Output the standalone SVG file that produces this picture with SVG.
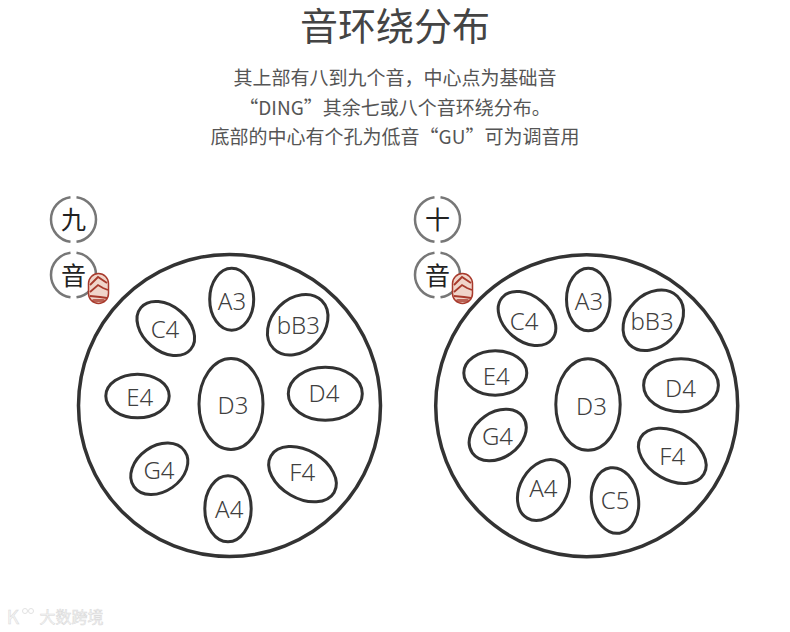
<svg xmlns="http://www.w3.org/2000/svg" width="790" height="632" viewBox="0 0 790 632">
<style>
text{font-family:"Noto Sans CJK SC","Noto Sans",sans-serif;text-anchor:middle}
.t{fill:#444;font-size:38px;font-family:"Liberation Sans","Noto Sans CJK SC",sans-serif}
.s{fill:#555;font-size:19px}
.n{fill:#3f3f3f;font-size:24px;font-family:"Noto Sans",sans-serif;font-weight:300}
.o{fill:none;stroke:#333;stroke-width:3.5}
.p{fill:none;stroke:#333;stroke-width:3}
.b{fill:none;stroke:#777;stroke-width:2.500}
.k{fill:#222;font-size:25px}
.se{fill:#f0d5ca;stroke:#a83a2c;stroke-width:1.5}
.sl{fill:none;stroke:#a83a2c;stroke-width:1.8}
.sb{fill:#a83a2c;opacity:.75}
.w{fill:#f6f6f6;stroke:#d8d8d8;stroke-width:.5}
</style>
<rect width="790" height="632" fill="#fff"/>
<text class="t" x="395" y="40">音环绕分布</text>
<text class="s" x="395" y="85">其上部有八到九个音，中心点为基础音</text>
<text class="s" x="395" y="115">“DING”其余七或八个音环绕分布。</text>
<text class="s" x="395" y="144">底部的中心有个孔为低音“GU”可为调音用</text>
<g id="badge-left">
<path class="b" d="M70.500 197.200A22.500 22.500 0 0 0 70.500 241.800M76.500 197.200A22.500 22.500 0 0 1 76.500 241.800"/>
<path class="b" d="M70.500 252.700A22.500 22.500 0 0 0 70.500 297.300M76.500 252.700A22.500 22.500 0 0 1 76.500 297.300"/>
<text class="k" x="73.500" y="229">九</text>
<text class="k" x="73.500" y="285">音</text>
<rect class="se" x="88.500" y="273.500" width="20" height="30" rx="10"/>
<path class="sl" d="M90 285l8-8 9 6M90 292l8-7 5 3 5 2M90 296l10 1 7 1"/>
<rect class="sb" x="92" y="299" width="13" height="3" rx="1.500"/>
</g>
<g id="badge-right">
<path class="b" d="M434.500 197.200A22.500 22.500 0 0 0 434.500 241.800M440.500 197.200A22.500 22.500 0 0 1 440.500 241.800"/>
<path class="b" d="M434.500 252.700A22.500 22.500 0 0 0 434.500 297.300M440.500 252.700A22.500 22.500 0 0 1 440.500 297.300"/>
<text class="k" x="437.500" y="229">十</text>
<text class="k" x="437.500" y="285">音</text>
<rect class="se" x="452.500" y="273.500" width="20" height="30" rx="10"/>
<path class="sl" d="M454 285l8-8 9 6M454 292l8-7 5 3 5 2M454 296l10 1 7 1"/>
<rect class="sb" x="456" y="299" width="13" height="3" rx="1.500"/>
</g>
<g id="drum-left">
<circle class="o" cx="229.500" cy="405.500" r="151"/>
<g id="l-D3"><ellipse class="p" cx="231" cy="404" rx="32" ry="45.500"/><text class="n" x="233" y="414">D3</text></g>
<g id="l-A3"><ellipse class="p" cx="231.700" cy="299.300" rx="22" ry="31"/><text class="n" x="232" y="310">A3</text></g>
<g id="l-bB3"><ellipse class="p" cx="297.700" cy="324.700" rx="34" ry="26" transform="rotate(-45 297.700 324.700)"/><text class="n" x="298.300" y="334">bB3</text></g>
<g id="l-D4"><ellipse class="p" cx="325.300" cy="393.700" rx="37" ry="26.500"/><text class="n" x="324" y="402">D4</text></g>
<g id="l-F4"><ellipse class="p" cx="302.500" cy="474.200" rx="36.500" ry="24" transform="rotate(30 302.500 474.200)"/><text class="n" x="302.300" y="481">F4</text></g>
<g id="l-A4"><ellipse class="p" cx="228" cy="508.800" rx="23.200" ry="33"/><text class="n" x="229.200" y="518">A4</text></g>
<g id="l-G4"><ellipse class="p" cx="159.300" cy="468.800" rx="31" ry="22.700" transform="rotate(-35 159.300 468.800)"/><text class="n" x="159" y="479">G4</text></g>
<g id="l-E4"><ellipse class="p" cx="137.500" cy="396" rx="31.700" ry="21.800"/><text class="n" x="139.700" y="405.500">E4</text></g>
<g id="l-C4"><ellipse class="p" cx="165.800" cy="328.500" rx="32.500" ry="22.500" transform="rotate(40 165.800 328.500)"/><text class="n" x="165" y="338">C4</text></g>
</g>
<g id="drum-right">
<circle class="o" cx="586.700" cy="405.800" r="151"/>
<g id="r-D3"><ellipse class="p" cx="588" cy="404.500" rx="32.200" ry="45.700"/><text class="n" x="591.500" y="414.500">D3</text></g>
<g id="r-A3"><ellipse class="p" cx="588.300" cy="299.500" rx="21.800" ry="31.300"/><text class="n" x="589" y="310">A3</text></g>
<g id="r-bB3"><ellipse class="p" cx="653.300" cy="320.300" rx="34" ry="26" transform="rotate(-45 653.300 320.300)"/><text class="n" x="652" y="330">bB3</text></g>
<g id="r-D4"><ellipse class="p" cx="681" cy="385.300" rx="37.400" ry="26.500"/><text class="n" x="680.500" y="397">D4</text></g>
<g id="r-F4"><ellipse class="p" cx="672.300" cy="455.800" rx="36.500" ry="24" transform="rotate(30 672.300 455.800)"/><text class="n" x="672.300" y="465">F4</text></g>
<g id="r-C5"><ellipse class="p" cx="615" cy="500.500" rx="23.500" ry="33" transform="rotate(-8 615 500.500)"/><text class="n" x="615.200" y="509">C5</text></g>
<g id="r-A4"><ellipse class="p" cx="543.500" cy="490" rx="32.500" ry="23.500" transform="rotate(-60 543.500 490)"/><text class="n" x="543.300" y="497">A4</text></g>
<g id="r-G4"><ellipse class="p" cx="497.700" cy="435" rx="31" ry="22.700" transform="rotate(-35 497.700 435)"/><text class="n" x="497.500" y="445">G4</text></g>
<g id="r-E4"><ellipse class="p" cx="495.300" cy="373" rx="31.500" ry="22.200"/><text class="n" x="496.200" y="384.500">E4</text></g>
<g id="r-C4"><ellipse class="p" cx="527" cy="318.500" rx="32.500" ry="22.500" transform="rotate(40 527 318.500)"/><text class="n" x="524.200" y="330">C4</text></g>
</g>
<g id="watermark">
<text class="w" x="71.500" y="623" font-size="16">大数跨境</text>
<text class="w" x="13" y="624" font-size="19">K</text>
<circle cx="25" cy="611" r="2.500" fill="none" stroke="#e2e2e2"/><circle cx="31" cy="611" r="2.500" fill="none" stroke="#e2e2e2"/>
</g>
</svg>
